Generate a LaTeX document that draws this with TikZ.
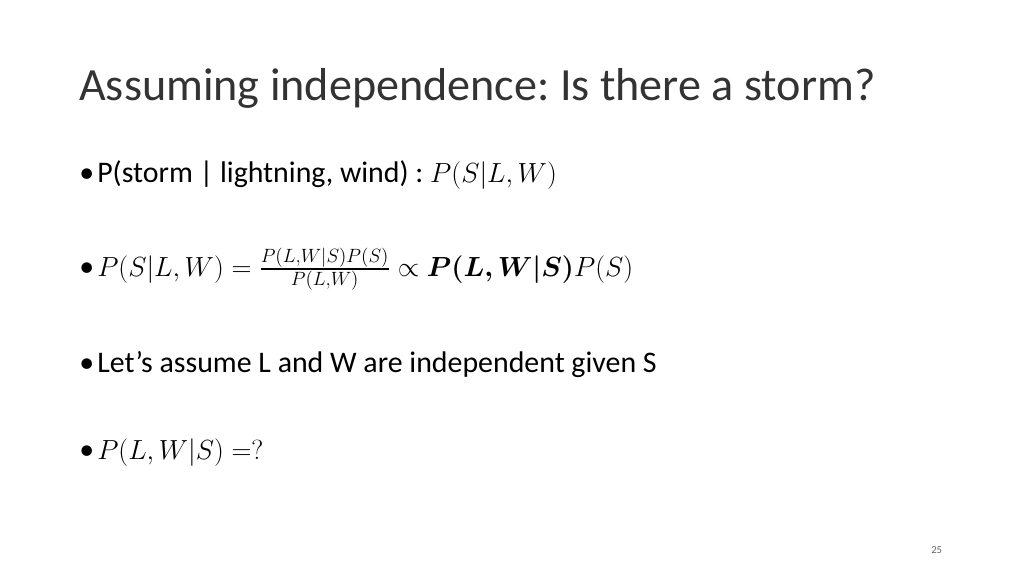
\documentclass[tikz,border=0pt]{standalone}
\usepackage{amsmath,amssymb,bm}
\usepackage{fontspec}
\setmainfont{Carlito}
\frenchspacing
\begin{document}
\begin{tikzpicture}[x=0.75pt,y=-0.75pt,
  txt/.style={anchor=base west,inner sep=0pt,font=\fontsize{22.4}{26}\selectfont},
  bul/.style={anchor=base west,inner sep=0pt,font=\fontsize{22.4}{26}\selectfont}]
\useasboundingbox (0,0) rectangle (1024,576);
\node[anchor=base west,inner sep=0pt,font=\fontsize{34.6}{40}\selectfont,text=black!80] (title) at (79,100) {Assuming independence: Is there a storm?};
\node[bul] (b1) at (79,182) {•};
\node[txt] (t1) at (97,182) {P(storm | lightning, wind) : $P(S|L,W)$};
\node[bul] (b2) at (79,276) {•};
\node[txt] (t2) at (97,276) {$P(S|L,W)=\frac{P(L,W|S)P(S)}{P(L,W)}\propto \bm{P(L,W|S)}P(S)$};
\node[bul] (b3) at (79,372) {•};
\node[txt] (t3) at (97,372) {Let’s assume L and W are independent given S};
\node[bul] (b4) at (79,459) {•};
\node[txt] (t4) at (97,459) {$P(L,W|S)=?$};
\node[anchor=base west,inner sep=0pt,font=\fontsize{8}{10}\selectfont,text=black!60] (pg) at (931,553) {25};
\end{tikzpicture}
\end{document}
